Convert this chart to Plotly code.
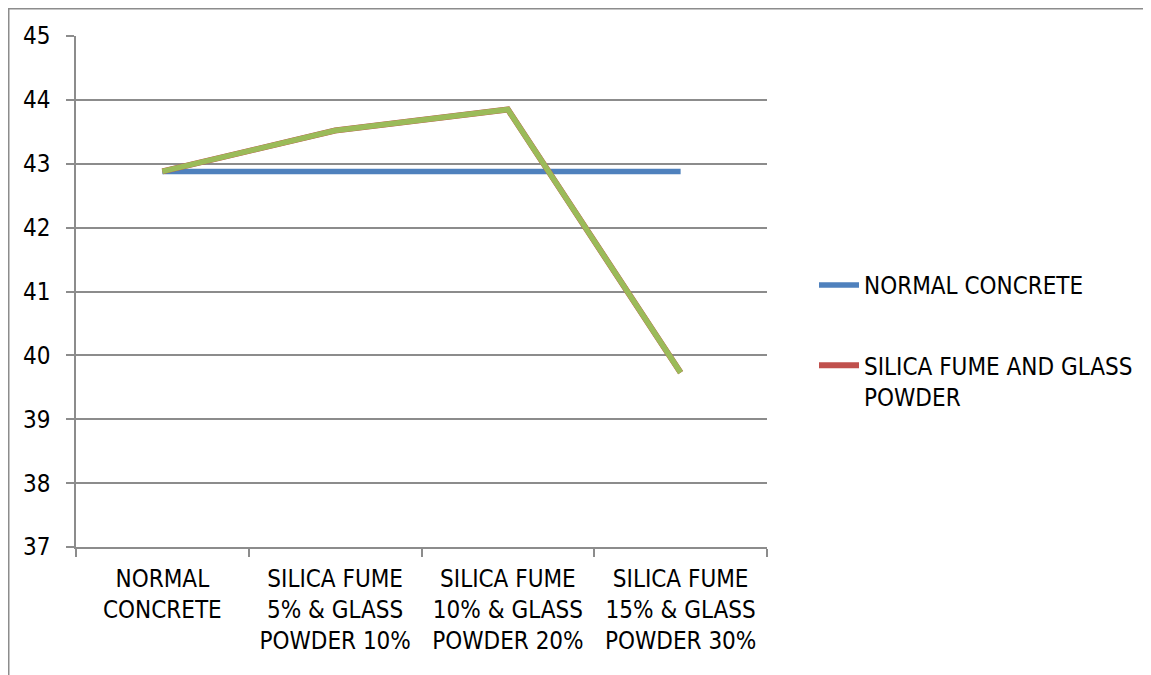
import plotly.graph_objects as go

categories = [
    "NORMAL<br>CONCRETE",
    "SILICA FUME<br>5% & GLASS<br>POWDER 10%",
    "SILICA FUME<br>10% & GLASS<br>POWDER 20%",
    "SILICA FUME<br>15% & GLASS<br>POWDER 30%",
]
normal_concrete = [42.88, 42.88, 42.88, 42.88]
silica_glass = [42.88, 43.52, 43.85, 39.73]
y_ticks = [37, 38, 39, 40, 41, 42, 43, 44, 45]

FONT = "DejaVu Sans Condensed, Liberation Sans Narrow, Arial Narrow, sans-serif"
FS = 24
GRID = "#8c8c8c"

fig = go.Figure()
fig.add_trace(go.Scatter(
    x=categories, y=normal_concrete, mode="lines", name="NORMAL CONCRETE",
    line=dict(color="#4F81BD", width=5.5), legendgroup="a",
))
fig.add_trace(go.Scatter(
    x=categories, y=silica_glass, mode="lines",
    name="SILICA FUME AND GLASS<br>POWDER",
    line=dict(color="#C0504D", width=6), legendgroup="b",
))
fig.add_trace(go.Scatter(
    x=categories, y=silica_glass, mode="lines", showlegend=False,
    line=dict(color="#9BBB59", width=5.5), hoverinfo="skip",
))

OFF = 8  # page body margin
W, H = 1151 - OFF, 675 - OFF
L, T = 76 - OFF, 36 - OFF
R = W - (767 - OFF)
B = H - (547 - OFF)
pw, ph = W - L - R, H - T - B

def px(xpix):
    return (xpix - OFF - L) / pw

def py(ypix):
    return (H - B - (ypix - OFF)) / ph

fig.update_layout(
    width=W, height=H,
    margin=dict(l=L, r=R, t=T, b=B, autoexpand=False),
    paper_bgcolor="white", plot_bgcolor="white",
    font=dict(family=FONT, size=FS, color="black"),
    showlegend=True,
    legend=dict(
        x=px(814), y=py(263), xanchor="left", yanchor="top",
        font=dict(family=FONT, size=FS, color="black"),
        tracegroupgap=46, valign="top", bgcolor="rgba(0,0,0,0)",
        itemwidth=40,
    ),
    xaxis=dict(
        type="category", range=[-0.5, 3.5],
        showgrid=False, showline=True, linecolor=GRID, linewidth=1.5,
        ticks="outside", tickson="boundaries", ticklen=8, tickcolor=GRID, tickwidth=1.5,
        tickfont=dict(family=FONT, size=FS, color="black"),
        tickangle=0, fixedrange=True, ticklabelstandoff=9,
    ),
    yaxis=dict(
        range=[37, 45], tickvals=y_ticks, ticktext=[str(v) for v in y_ticks],
        showgrid=True, gridcolor=GRID, gridwidth=1.5,
        showline=True, linecolor=GRID, linewidth=1.5,
        ticks="outside", ticklen=8, tickcolor=GRID, tickwidth=1.5,
        tickfont=dict(family=FONT, size=FS, color="black"),
        zeroline=False, fixedrange=True, ticklabelstandoff=11,
    ),
    shapes=[
        dict(type="line", xref="paper", yref="paper",
             x0=px(8), x1=px(1160), y0=py(8.5), y1=py(8.5),
             line=dict(color="#8c8c8c", width=2)),
        dict(type="line", xref="paper", yref="paper",
             x0=px(8.5), x1=px(8.5), y0=py(8), y1=py(680),
             line=dict(color="#8c8c8c", width=2)),
    ],
)

fig.write_html("out.html")
